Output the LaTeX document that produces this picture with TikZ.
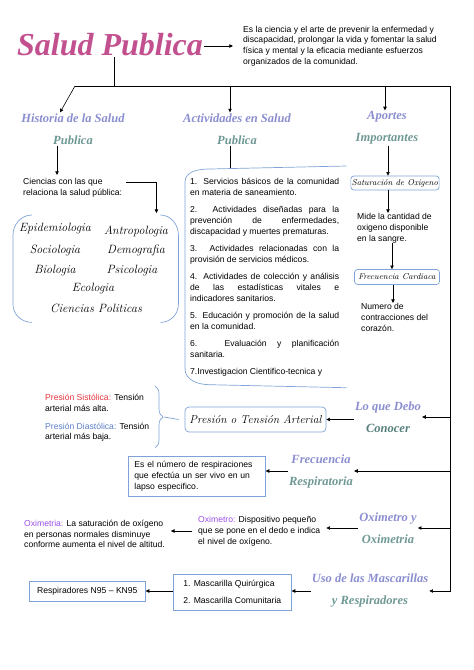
\documentclass[tikz,border=0pt]{standalone}
\usepackage{fontspec}
\usetikzlibrary{arrows.meta,calc,decorations.pathreplacing}
\newfontfamily\bodyf{Liberation Sans}
\newfontfamily\headff{Liberation Serif}
\newcommand\scrf{\rmfamily\itshape}
\newcommand\scrb{\headff\bfseries\itshape}
\definecolor{bl}{HTML}{7FA3D6}
\definecolor{lav}{HTML}{8A8ECF}
\definecolor{tl}{HTML}{6E9894}
\definecolor{tld}{HTML}{557F7B}
\definecolor{pk}{HTML}{C2508F}
\definecolor{rd}{HTML}{E5343E}
\definecolor{db}{HTML}{5A7EC8}
\definecolor{pu}{HTML}{9B4FE6}
\tikzset{
  body/.style={font={\bodyf\fontsize{8.6}{10.8}\selectfont}, inner sep=0pt, align=left, anchor=north west},
  arr/.style={-{Triangle[length=3.6pt,width=3.4pt]}, line width=0.6pt},
  ln/.style={line width=0.6pt},
  blu/.style={draw=bl, line width=0.7pt},
  head/.style={font={\scrb\fontsize{12.5}{22}\selectfont}, align=center, inner sep=1pt},
  scr/.style={font={\scrf\fontsize{12}{14}\selectfont}, inner sep=0pt},
  rbox/.style={draw=bl, line width=0.7pt, rounded corners=3pt, inner sep=1pt, font={\scrf\fontsize{8.5}{10}\selectfont}},
  sbox/.style={body, draw=bl, line width=0.7pt}
}
\begin{document}
\begin{tikzpicture}[x=1pt,y=-1pt]
\useasboundingbox (0,0) rectangle (474,670);
% title and definition
\node[font={\scrb\fontsize{32}{36}\selectfont}, text=pk, inner sep=1pt] (title) at (110,45) {Salud Publica};
\node[body, anchor=west] (def) at (243,46) {Es la ciencia y el arte de prevenir la enfermedad y\\discapacidad, prolongar la vida y fomentar la salud\\física y mental y la eficacia mediante esfuerzos\\organizados de la comunidad.};
\coordinate (defin) at ([xshift=-10pt]def.west);
\draw[arr] (title.east |- defin) -- (defin);
% tree
\coordinate (j) at (114,86);
\coordinate (jl) at (75,86);
\coordinate (ja) at (230,86);
\coordinate (jp) at (385,86);
\coordinate (jr) at (450,86);
% headings
\node[head] (hist) at (73,129) {{\color{lav}Historia de la Salud}\\{\color{tl}Publica}};
\node[head] (act) at (237,129) {{\color{lav}Actividades en Salud}\\{\color{tl}Publica}};
\node[head] (apor) at (387,128) {{\color{lav}Aportes}\\{\color{tl}Importantes}};
\node[head] (ldc) at (388,417) {{\color{lav}Lo que Debo}\\{\color{tld}Conocer}};
\node[head] (fr) at (321,471) {{\color{lav}Frecuencia}\\{\color{tl}Respiratoria}};
\node[head] (ox) at (388,528) {{\color{lav}Oximetro y}\\{\color{tl}Oximetria}};
\node[head] (uso) at (370,591) {{\color{lav}Uso de las Mascarillas}\\{\color{tl}y Respiradores}};
\draw[ln] (title.south -| j) -- (j);
\draw[arr] (jl) -- (jr) -- (jr |- uso.east) -- (uso.east);
\draw[arr] (jl) -- ($(hist.north)+(-13,0)$);
\draw[arr] (ja) -- (ja |- act.north);
\draw[arr] (jp) -- (jp |- apor.north);
% historia branch
\node[body] (cien) at (23,178) {Ciencias con las que\\relaciona la salud pública:};
\coordinate (hs) at ([xshift=-16pt]hist.south);
\draw[arr, shorten >=3pt] (hs) -- (hs |- cien.north);
\node[minimum width=165pt, minimum height=107pt, inner sep=0pt, anchor=north west] (sci) at (13,215) {};
\coordinate (sciar) at ([xshift=-22pt,yshift=2pt]sci.north east);
\draw[arr] ([xshift=4pt,yshift=5pt]cien.east) -| (sciar);
\draw[blu] ([xshift=19pt]sci.north west) to[out=180,in=90] ([yshift=-20pt]sci.north west) -- ([yshift=18pt]sci.south west) to[out=-90,in=180] ([xshift=19pt]sci.south west);
\draw[blu] ([xshift=-18pt]sci.north east) to[out=0,in=90] ([yshift=-20pt]sci.north east) -- ([yshift=18pt]sci.south east) to[out=-90,in=0] ([xshift=-18pt]sci.south east);
\node[scr] (epi) at (55,229) {Epidemiologia};
\node[scr] (ant) at (136,231) {Antropologia};
\node[scr] (soc) at (55,250) {Sociologia};
\node[scr] (dem) at (136,250) {Demografia};
\node[scr] (bio) at (55,271) {Biologia};
\node[scr] (psi) at (132,271) {Psicologia};
\node[scr] (eco) at (93,289) {Ecologia};
\node[scr] (cp) at (96,308) {Ciencias Politicas};
% actividades branch
\node[body, text width=149pt, align=justify] (lst) at (190,178) {%
1. Servicios básicos de la comunidad\linebreak en materia de saneamiento.\par\vspace{6.5pt}
2. Actividades diseñadas para la\linebreak prevención de enfermedades,\linebreak discapacidad y muertes prematuras.\par\vspace{6.5pt}
3. Actividades relacionadas con la\linebreak provisión de servicios médicos.\par\vspace{6.5pt}
4. Actividades de colección y análisis\linebreak de las estadísticas vitales e\linebreak indicadores sanitarios.\par\vspace{6.5pt}
5. Educación y promoción de la salud\linebreak en la comunidad.\par\vspace{6.5pt}
6. Evaluación y planificación\linebreak sanitaria.\par\vspace{6.5pt}
\parfillskip=0pt 7.Investigacion Cientifico-tecnica y};
\draw[blu] ($(lst.north east)+(7,-12)$) -- ($(lst.north west)+(20,-9)$) to[out=180,in=90] ($(lst.north west)+(-5,4)$) -- ($(lst.south west)+(-5,-8)$) to[out=-90,in=180] ($(lst.south west)+(20,8)$) -- ($(lst.south east)+(7,11)$);
\coordinate (lt) at (230,167.5);
\draw[ln] (act.south -| lt) -- (lt);
% aportes branch
\node[rbox, minimum width=86pt, minimum height=14pt] (sat) at (395,183) {Saturación de Oxigeno};
\draw[arr] ([xshift=1pt]apor.south) -- ([xshift=1pt]apor.south |- sat.north);
\node[body] (mide) at (357,213) {Mide la cantidad de\\oxigeno disponible\\en la sangre.};
\draw[arr] ([xshift=-7pt]sat.south) -- ([xshift=-7pt]sat.south |- mide.north);
\node[rbox, minimum width=85pt, minimum height=15pt] (fc) at (397,277) {Frecuencia Cardiaca};
\draw[arr] ([xshift=-5pt]fc.north |- mide.south) -- ([xshift=-5pt]fc.north);
\node[body] (num) at (361,303) {Numero de\\contracciones del\\corazón.};
\draw[arr] ([xshift=-4pt]fc.south) -- ([xshift=-4pt]fc.south |- num.north);
% lo que debo conocer
\draw[arr] (ldc.east -| jr) -- (ldc.east);
\node[rbox, font={\scrf\fontsize{11.5}{14}\selectfont}, minimum width=141pt, minimum height=25pt, rounded corners=4pt] (pta) at (255.5,419.5) {Presión o Tensión Arterial};
\draw[arr] (ldc.west |- pta.east) -- (pta.east);
\draw[blu, decorate, decoration={brace, amplitude=8pt}] (155,386) -- (155,448);
\coordinate (btip) at (164,417);
\draw[blu] (btip) -- ([xshift=-6pt]pta.west);
\node[body] (sis) at (45,394) {\textcolor{rd}{Presión Sistólica:} Tensión\\arterial más alta.\\[7pt]\textcolor{db}{Presión Diastólica:} Tensión\\arterial más baja.};
% frecuencia respiratoria
\draw[arr] (fr.east -| jr) -- (fr.east);
\node[sbox, inner xsep=6pt, inner ysep=5pt, text width=125pt] (resp) at (128,456) {Es el número de respiraciones\\que efectúa un ser vivo en un\\lapso especifico.};
\draw[arr] (fr.west) -- (fr.west -| resp.east);
% oximetro
\draw[arr] (ox.east -| jr) -- (ox.east);
\node[body, anchor=west] (oxm) at (198,531) {\textcolor{pu}{Oximetro:} Dispositivo pequeño\\que se pone en el dedo e indica\\el nivel de oxígeno.};
\draw[arr] (ox.west) -- ($(ox.west -| oxm.east)+(6,0)$);
\node[body, anchor=west] (oxa) at (24,534) {\textcolor{pu}{Oximetria:} La saturación de oxígeno\\en personas normales disminuye\\conforme aumenta el nivel de altitud.};
\draw[arr] ($(oxm.west)+(-6,0)$) -- ($(oxm.west -| oxa.east)+(6,0)$);
% mascarillas
\node[sbox, anchor=west, inner xsep=6pt, inner ysep=6pt, minimum width=118pt, minimum height=36pt] (masc) at (173,592) {1. Mascarilla Quirúrgica\\[6pt]2. Mascarilla Comunitaria};
\draw[arr] (uso.west) -- (uso.west -| masc.east);
\node[sbox, anchor=west, inner xsep=6pt, minimum width=116pt, minimum height=20pt] (n95) at (29,591) {Respiradores N95 – KN95};
\draw[arr] (masc.west |- n95.east) -- (n95.east);
\end{tikzpicture}
\end{document}
